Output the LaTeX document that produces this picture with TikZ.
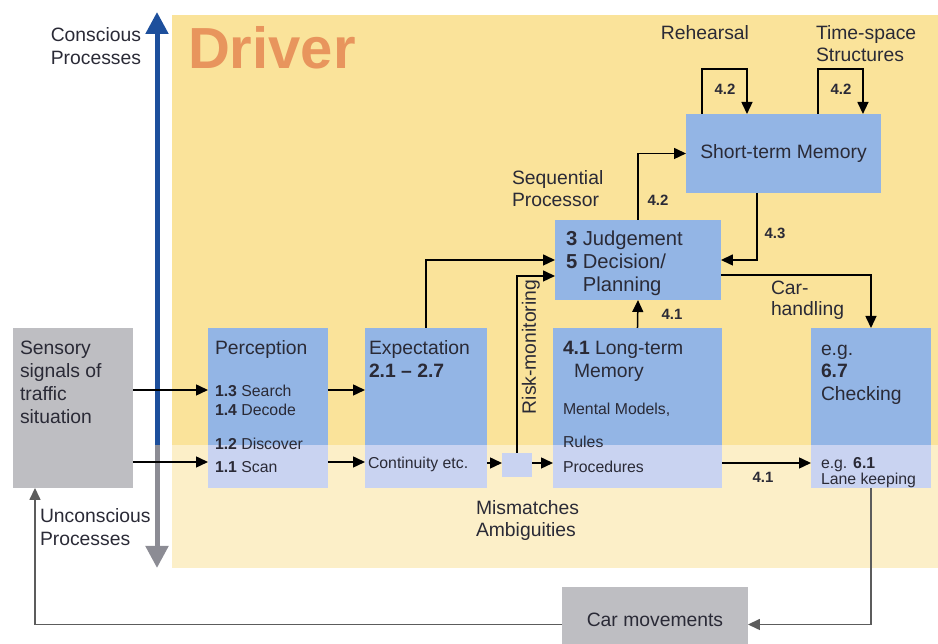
\documentclass[tikz,border=0pt]{standalone}
\usepackage{fontspec}
\setmainfont{Liberation Sans}
\usetikzlibrary{arrows.meta,calc}

\definecolor{drvyel}{HTML}{FAE39A}
\definecolor{drvcream}{HTML}{FCEFC8}
\definecolor{boxhi}{HTML}{93B5E5}
\definecolor{boxlo}{HTML}{C9D3F1}
\definecolor{boxgray}{HTML}{BEBEC2}
\definecolor{axisblue}{HTML}{1D4F9C}
\definecolor{axisgray}{HTML}{8C8C94}
\definecolor{ink}{HTML}{2A2A36}
\definecolor{drvorange}{HTML}{E8955D}
\definecolor{loopgray}{HTML}{5C5C5C}

\begin{document}
\begin{tikzpicture}[x=0.02cm,y=-0.02cm,
  font=\fontsize{11}{13}\selectfont,
  lbl/.style={inner sep=0pt, outer sep=0pt, text=ink},
  txt/.style={lbl, align=left, anchor=north west},
  smalltxt/.style={font=\fontsize{9}{11}\selectfont},
  num/.style={lbl, font=\fontsize{8.5}{10}\selectfont\bfseries},
  area/.style={inner sep=0pt, outer sep=0pt, draw=none, anchor=north west},
  bluebox/.style={area, fill=boxhi},
  graybox/.style={area, fill=boxgray},
  link/.style={line width=0.03cm, draw=black, -{Triangle[length=0.24cm,width=0.22cm]}},
  axis/.style={line width=0.1cm, -{Triangle[length=0.44cm,width=0.44cm]}},
]
\clip (0,0) rectangle (938,644);

% driver area: conscious part and unconscious strip
\fill[drvyel] (172,15) rectangle (938,445);
\fill[drvcream] (172,445) rectangle (938,568);

% helper rows
\coordinate (strip) at (0,445);
\coordinate (rowA) at (0,390);
\coordinate (rowB) at (0,462);
\coordinate (rowC) at (0,463);

% conscious / unconscious axis
\coordinate (axtop) at (157,12);
\coordinate (axmid) at (157,445);
\coordinate (axbot) at (157,568);
\draw[axis, axisblue] (axmid) -- (axtop);
\draw[axis, axisgray] (axmid) -- (axbot);

\node[lbl, align=right, anchor=north east] (consc) at (141,28) {Conscious\\Processes};
\node[txt] (unconsc) at (40,509) {Unconscious\\Processes};

\node[lbl, anchor=base west, font=\fontsize{33}{33}\selectfont\bfseries, text=drvorange] (title) at (188,69) {Driver};

% boxes
\node[graybox, minimum width=2.4cm, minimum height=3.2cm] (sens) at (13,328) {};
\node[bluebox, minimum width=2.4cm, minimum height=3.2cm] (perc) at (208,328) {};
\node[bluebox, minimum width=2.44cm, minimum height=3.2cm] (expc) at (365,328) {};
\node[bluebox, minimum width=3.38cm, minimum height=3.2cm] (ltm) at (553,328) {};
\node[bluebox, minimum width=2.4cm, minimum height=3.2cm] (chk) at (811,328) {};
\node[bluebox, minimum width=3.32cm, minimum height=1.6cm] (judg) at (555,220) {};
\node[bluebox, minimum width=3.9cm, minimum height=1.58cm, text=ink] (stm) at (686,114) {Short-term Memory};
\node[area, fill=boxlo, minimum width=0.6cm, minimum height=0.48cm] (sq) at (502,453) {};
\node[graybox, minimum width=3.72cm, minimum height=1.3cm, text=ink] (car) at (562,587) {Car movements};

% unconscious part of the boxes
\fill[boxlo] (perc.south west) rectangle (perc.east |- strip);
\fill[boxlo] (expc.south west) rectangle (expc.east |- strip);
\fill[boxlo] (ltm.south west) rectangle (ltm.east |- strip);
\fill[boxlo] (chk.south west) rectangle (chk.east |- strip);

% box texts
\node[txt] (senstxt) at (20,341) {Sensory\\signals of\\traffic\\situation};

\node[lbl, anchor=base west] (perctitle) at (215,355) {Perception};
\node[txt, font=\fontsize{9}{10.8}\selectfont] (percup) at (215,385) {\textbf{1.3} Search\\\textbf{1.4} Decode};
\node[txt, font=\fontsize{9}{13}\selectfont] (perclow) at (215,438) {\textbf{1.2} Discover\\\textbf{1.1} Scan};

\node[lbl, anchor=base west] (expctitle) at (369,355) {Expectation};
\node[lbl, anchor=base west, font=\fontsize{11}{13}\selectfont\bfseries] (expcnum) at (369,378) {2.1 -- 2.7};
\node[lbl, anchor=base west, smalltxt] (expclow) at (368,469) {Continuity etc.};

\node[txt] (ltmtitle) at (563,341) {\textbf{4.1} Long-term\\\hspace*{0.22cm}Memory};
\node[lbl, anchor=base west, smalltxt] (ltmmod) at (563,415) {Mental Models,};
\node[lbl, anchor=base west, smalltxt] (ltmrul) at (563,448) {Rules};
\node[lbl, anchor=base west, smalltxt] (ltmproc) at (563,473) {Procedures};

\node[txt, font=\fontsize{11}{12.8}\selectfont] (chktitle) at (821,342) {\vphantom{E}e.g.\\\textbf{6.7}\\Checking};
\node[txt, font=\fontsize{9}{7.4}\selectfont] (chklow) at (821,457) {e.g. \textbf{6.1}\\Lane keeping};

\node[txt, font=\fontsize{11.5}{13}\selectfont] (judgtxt) at (566,231) {\textbf{3} Judgement\\\textbf{5} Decision/\\\phantom{\textbf{5} }Planning};

% free labels
\node[lbl, anchor=base] (reh) at (705,40) {Rehearsal};
\node[txt, font=\fontsize{11}{12}\selectfont] (tss) at (816,26) {Time-space\\Structures};
\node[txt, font=\fontsize{11}{12}\selectfont] (seqp) at (512,171) {Sequential\\Processor};
\node[txt, font=\fontsize{11}{12}\selectfont] (carh) at (771,281) {Car-\\handling};
\node[txt, font=\fontsize{11}{12.5}\selectfont] (mism) at (476,501) {Mismatches\\Ambiguities};
\node[lbl, rotate=90] (riskmon) at (531,347) {Risk-monitoring};

\node[num] (nreh) at (725,89) {4.2};
\node[num] (ntss) at (841,89) {4.2};
\node[num] (njs) at (658,200) {4.2};
\node[num] (nsj) at (775,233) {4.3};
\node[num] (nlj) at (672,314) {4.1};
\node[num] (nlc) at (763,477) {4.1};

% connectors
\draw[link] (sens.east |- rowA) -- (perc.west |- rowA);
\draw[link] (sens.east |- rowB) -- (perc.west |- rowB);
\draw[link] (perc.east |- rowA) -- (expc.west |- rowA);
\draw[link] (perc.east |- rowB) -- (expc.west |- rowB);
\draw[link] (expc.east |- rowC) -- (sq.west |- rowC);
\draw[link] (sq.east |- rowC) -- (ltm.west |- rowC);
\draw[link] (sq.north) |- ([yshift=-0.32cm]judg.west);
\draw[link] (expc.north) |- (judg.west);
\draw[link] (ltm.north) -- (judg.south);
\draw[link] (judg.north) |- (stm.west);
\draw[link] ([xshift=-0.53cm]stm.south) |- (judg.east);
\draw[link] ([yshift=-0.3cm]judg.east) -| (chk.north);
\draw[link] (ltm.east |- rowC) -- (chk.west |- rowC);
\draw[link] ([xshift=0.32cm]stm.north west) -- ++(0,-45) -| ([xshift=1.22cm]stm.north west);
\draw[link] ([xshift=2.64cm]stm.north west) -- ++(0,-45) -| ([xshift=3.54cm]stm.north west);
\draw[link, draw=loopgray] (chk.south) |- ([yshift=-0.1cm]car.east);
\draw[link, draw=loopgray] ([yshift=-0.1cm]car.west) -| ([xshift=0.44cm]sens.south west);

\end{tikzpicture}
\end{document}
